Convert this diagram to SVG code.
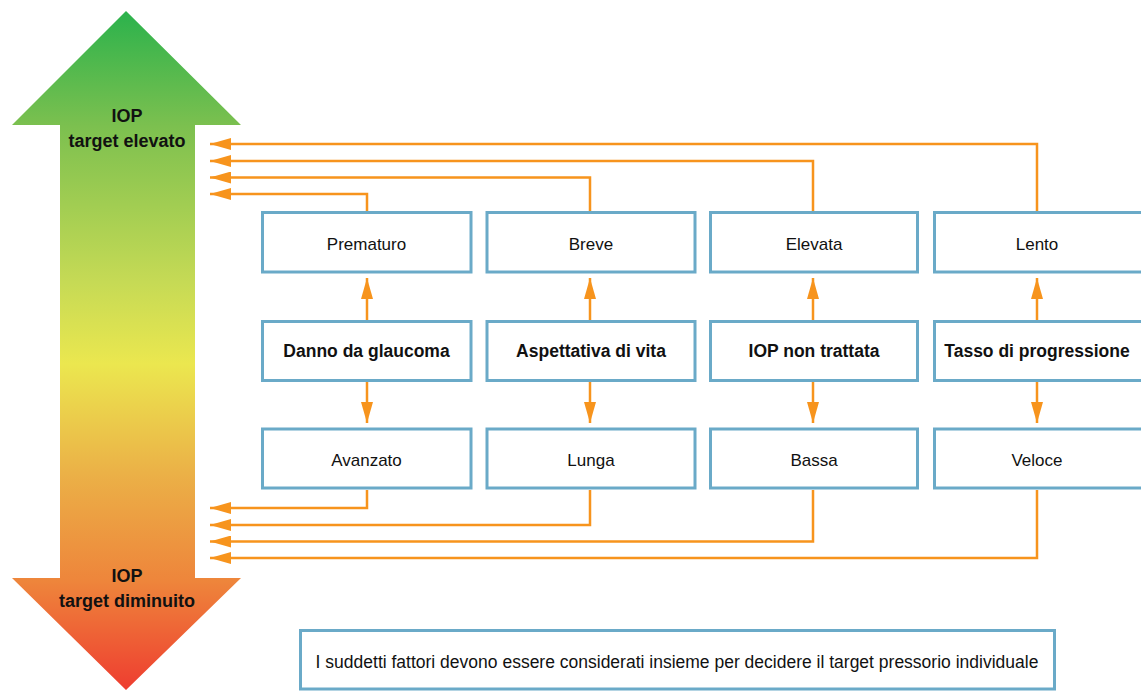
<svg xmlns="http://www.w3.org/2000/svg" width="1141" height="691" viewBox="0 0 1141 691">
<style>
.box{fill:#ffffff;stroke:#6aaac8;stroke-width:3}
.t{font-family:"Liberation Sans",Arial,sans-serif;font-size:17px;fill:#111;text-anchor:middle}
.b{font-weight:bold;font-size:17.5px}
.lbl{font-family:"Liberation Sans",Arial,sans-serif;font-size:18px;font-weight:bold;fill:#111;text-anchor:middle}
.c{fill:none;stroke:#f7941d;stroke-width:2.5}
</style>
<defs>
<linearGradient id="grad" x1="0" y1="11" x2="0" y2="690" gradientUnits="userSpaceOnUse">
<stop offset="0" stop-color="#2bb24c"/>
<stop offset="0.17" stop-color="#7cc04f"/>
<stop offset="0.4" stop-color="#c6da55"/>
<stop offset="0.52" stop-color="#ebe74f"/>
<stop offset="0.68" stop-color="#ebb147"/>
<stop offset="0.84" stop-color="#ee853b"/>
<stop offset="1" stop-color="#ee3d30"/>
</linearGradient>
<marker id="ah" markerUnits="userSpaceOnUse" markerWidth="22" markerHeight="12" refX="21" refY="6" orient="auto">
<path d="M0,0 L21,6 L0,12 Z" fill="#f7941d"/>
</marker>
</defs>

<g id="iop-arrow">
<polygon points="126,11 241,125 195,125 195,578 241,578 126,690 12,578 60,578 60,125 12,125" fill="url(#grad)"/>
<text class="lbl" x="127" y="122">IOP</text>
<text class="lbl" x="127" y="147">target elevato</text>
<text class="lbl" x="127" y="582">IOP</text>
<text class="lbl" x="127" y="607">target diminuito</text>
</g>

<g id="connectors">
<polyline class="c" points="1037,211 1037,144 210,144" marker-end="url(#ah)"/>
<polyline class="c" points="813,211 813,161 210,161" marker-end="url(#ah)"/>
<polyline class="c" points="590,211 590,177.5 210,177.5" marker-end="url(#ah)"/>
<polyline class="c" points="367,211 367,194 210,194" marker-end="url(#ah)"/>
<polyline class="c" points="367,490 367,508 210,508" marker-end="url(#ah)"/>
<polyline class="c" points="590,490 590,525 210,525" marker-end="url(#ah)"/>
<polyline class="c" points="813,490 813,541.5 210,541.5" marker-end="url(#ah)"/>
<polyline class="c" points="1037,490 1037,558 210,558" marker-end="url(#ah)"/>
<line class="c" x1="367" y1="320" x2="367" y2="278" marker-end="url(#ah)"/>
<line class="c" x1="590" y1="320" x2="590" y2="278" marker-end="url(#ah)"/>
<line class="c" x1="813" y1="320" x2="813" y2="278" marker-end="url(#ah)"/>
<line class="c" x1="1037" y1="320" x2="1037" y2="278" marker-end="url(#ah)"/>
<line class="c" x1="367" y1="382" x2="367" y2="423" marker-end="url(#ah)"/>
<line class="c" x1="590" y1="382" x2="590" y2="423" marker-end="url(#ah)"/>
<line class="c" x1="813" y1="382" x2="813" y2="423" marker-end="url(#ah)"/>
<line class="c" x1="1037" y1="382" x2="1037" y2="423" marker-end="url(#ah)"/>
</g>

<g id="prematuro"><rect class="box" x="262.5" y="212.5" width="208.5" height="59.5"/><text class="t" x="366.5" y="250">Prematuro</text></g>
<g id="breve"><rect class="box" x="487" y="212.5" width="208" height="59.5"/><text class="t" x="591" y="250">Breve</text></g>
<g id="elevata"><rect class="box" x="710.5" y="212.5" width="207" height="59.5"/><text class="t" x="814" y="250">Elevata</text></g>
<g id="lento"><rect class="box" x="934.5" y="212.5" width="208" height="59.5"/><text class="t" x="1037" y="250">Lento</text></g>

<g id="danno"><rect class="box" x="262.5" y="321.5" width="208.5" height="59"/><text class="t b" x="366.5" y="357">Danno da glaucoma</text></g>
<g id="aspettativa"><rect class="box" x="487" y="321.5" width="208" height="59"/><text class="t b" x="591" y="357">Aspettativa di vita</text></g>
<g id="iop-non-trattata"><rect class="box" x="710.5" y="321.5" width="207" height="59"/><text class="t b" x="814" y="357">IOP non trattata</text></g>
<g id="tasso"><rect class="box" x="934.5" y="321.5" width="208" height="59"/><text class="t b" x="1037" y="357">Tasso di progressione</text></g>

<g id="avanzato"><rect class="box" x="262.5" y="429" width="208.5" height="59"/><text class="t" x="366.5" y="465.5">Avanzato</text></g>
<g id="lunga"><rect class="box" x="487" y="429" width="208" height="59"/><text class="t" x="591" y="465.5">Lunga</text></g>
<g id="bassa"><rect class="box" x="710.5" y="429" width="207" height="59"/><text class="t" x="814" y="465.5">Bassa</text></g>
<g id="veloce"><rect class="box" x="934.5" y="429" width="208" height="59"/><text class="t" x="1037" y="465.5">Veloce</text></g>

<g id="note"><rect class="box" x="300.5" y="630.5" width="754" height="58.5"/><text class="t" x="677" y="668" style="font-size:17.5px">I suddetti fattori devono essere considerati insieme per decidere il target pressorio individuale</text></g>
</svg>
